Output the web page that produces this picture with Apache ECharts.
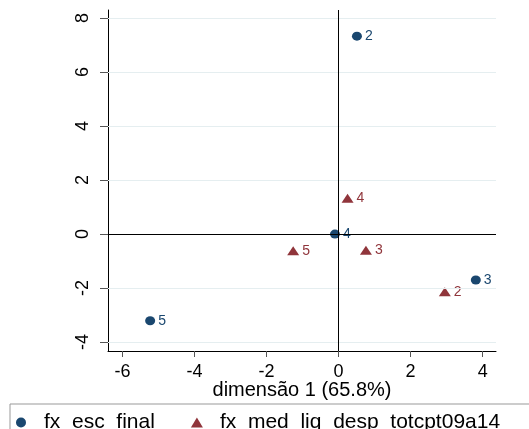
<!DOCTYPE html>
<html><head><meta charset="utf-8">
<script src="https://cdn.jsdelivr.net/npm/echarts@6/dist/echarts.min.js"></script>
<style>html,body{margin:0;padding:0;background:#fff}#c{width:529px;height:429px}</style>
</head><body><div id="c"></div>
<script>
const escLabels = ['2','3','4','5'];
const escX = [0.51, 3.81, -0.10, -5.23];
const escY = [7.33, -1.70, 0.00, -3.21];
const medLabels = ['4','3','5','2'];
const medX = [0.25, 0.76, -1.26, 2.95];
const medY = [1.33, -0.60, -0.62, -2.14];
const xTicks = [-6, -4, -2, 0, 2, 4];
const yTicks = [-4, -2, 0, 2, 4, 6, 8];
const yGrid = [-4, -2, 2, 4, 6, 8];
const seriesNames = ['fx_esc_final', 'fx_med_liq_desp_totcpt09a14'];
const xTitle = 'dimensão 1 (65.8%)';

const NAVY = '#1a476f', MAROON = '#90353b';
const font = 'Liberation Sans, Arial, sans-serif';
const chart = echarts.init(document.getElementById('c'));
function pts(xs, ys, ls){ return xs.map((x,i)=>({value:[x, ys[i]], name:ls[i]})); }
chart.setOption({
  animation:false,
  backgroundColor:'#fff',
  grid:{left:108, right:33, top:10, bottom:78, containLabel:false},
  xAxis:{type:'value', min:-6.4, max:4.37,
    name:xTitle, nameLocation:'middle', nameGap:29, nameMoveOverlap:false,
    nameTextStyle:{fontFamily:font, fontSize:20, color:'#000'},
    axisLine:{show:true, onZero:false, lineStyle:{color:'#000', width:1}},
    axisTick:{show:true, length:6, customValues:xTicks, lineStyle:{color:'#555'}},
    axisLabel:{customValues:xTicks, fontFamily:font, fontSize:18, color:'#000', margin:12},
    splitLine:{show:false}},
  yAxis:{type:'value', min:-4.33, max:8.3,
    axisLine:{show:true, onZero:false, lineStyle:{color:'#000', width:1}},
    axisTick:{show:true, length:8, customValues:yTicks, lineStyle:{color:'#555'}},
    axisLabel:{customValues:yTicks, rotate:90, fontFamily:font, fontSize:18, color:'#000', margin:16},
    splitLine:{show:false}},
  legend:{left:16, top:412, padding:0, itemWidth:12, itemHeight:10, itemGap:36,
    textStyle:{fontFamily:font, fontSize:21, color:'#000', padding:[0,0,0,12]},
    data:[{name:seriesNames[0], icon:'circle'},{name:seriesNames[1], icon:'triangle'}]},
  graphic:[{type:'rect', shape:{x:10, y:404, width:560, height:60},
    style:{fill:'none', stroke:'#999', lineWidth:1}, silent:true}],
  series:[
    {name:seriesNames[0], type:'scatter', symbol:'circle', symbolSize:[10,9],
     itemStyle:{color:NAVY, opacity:1},
     label:{show:true, position:'right', distance:3, formatter:'{b}', color:NAVY, fontFamily:font, fontSize:14},
     data:pts(escX, escY, escLabels),
     markLine:{silent:true, symbol:'none', label:{show:false}, animation:false,
       lineStyle:{color:'#e5eef0', width:1, type:'solid'},
       data:yGrid.map(v=>({yAxis:v}))}, z:3},
    {name:seriesNames[1], type:'scatter', symbol:'triangle', symbolSize:[12,9],
     itemStyle:{color:MAROON, opacity:1},
     label:{show:true, position:'right', distance:3, formatter:'{b}', color:MAROON, fontFamily:font, fontSize:14},
     data:pts(medX, medY, medLabels),
     markLine:{silent:true, symbol:'none', label:{show:false}, animation:false,
       lineStyle:{color:'#000', width:1, type:'solid'},
       data:[{xAxis:0},{yAxis:0}]}, z:3}
  ]
});
</script></body></html>
